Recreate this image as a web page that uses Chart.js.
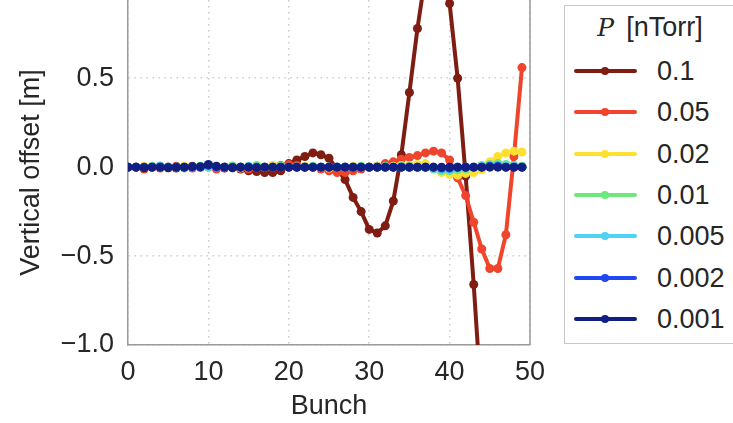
<!DOCTYPE html>
<html lang="en">
<head>
  <meta charset="UTF-8">
  <title>Vertical offset per bunch</title>
  <script src="https://cdn.jsdelivr.net/npm/chart.js"></script>
  <style>
    body { margin: 0; background: #fff; font-family: "Liberation Sans", Arial, sans-serif; color: #262626; }
    #wrap { position: relative; width: 733px; height: 423px; overflow: hidden; }
    #legend { position: absolute; left: 564px; top: 5px; width: 200px; height: 339px;
              border: 1px solid #c8c8c8; background: #fff; box-sizing: border-box; }
    #legend .title { position: absolute; left: 0; top: 6px; width: 170px; text-align: center; font-size: 27px; }
    #legend .title i { font-family: "DejaVu Serif", serif; font-size: 25px; margin-right: 12px; }
    .item { position: absolute; left: 0; height: 32px; width: 200px; }
    .item .ln { position: absolute; left: 9px; top: 14px; width: 63px; height: 4px; border-radius: 2px; }
    .item .dot { position: absolute; left: 36px; top: 12px; width: 8px; height: 8px; border-radius: 50%; }
    .item .lab { position: absolute; left: 92px; top: 0; font-size: 27px; line-height: 32px; }
  </style>
</head>
<body>
  <div id="wrap">
    <canvas id="chart" width="733" height="423"></canvas>
    <div id="legend"><div class="title"><i>P</i>[nTorr]</div></div>
  </div>

  <script>
    // bunch index on x
    const bunches = [0,1,2,3,4,5,6,7,8,9,10,11,12,13,14,15,16,17,18,19,20,21,22,23,24,
                     25,26,27,28,29,30,31,32,33,34,35,36,37,38,39,40,41,42,43,44,45,46,47,48,49];

    const pressures = ['0.1', '0.05', '0.02', '0.01', '0.005', '0.002', '0.001'];
    const colors = ['#7f1d12', '#f0442c', '#fde030', '#6ee87c', '#50d2f5', '#1f48f2', '#121f82'];

    // vertical offset [m]
    const offset_0p1 = [0.0, 0.0, -0.005, 0.0, 0.005, 0.0, -0.005, 0.0, 0.005, 0.0,
      0.005, 0.0, -0.005, 0.0, -0.01, -0.02, -0.025, -0.03, -0.03, -0.02,
      0.02, 0.04, 0.06, 0.08, 0.07, 0.05, -0.01, -0.07, -0.17, -0.25,
      -0.35, -0.37, -0.33, -0.19, 0.07, 0.42, 0.78, 1.08, 1.2, 1.05,
      0.92, 0.5, -0.05, -0.66, -1.35, -1.7, -1.9, -1.85, -1.6, -1.3];
    const offset_0p05 = [0.0, 0.0, -0.01, 0.0, -0.005, 0.0, 0.005, 0.0, -0.005, 0.0,
      0.0, -0.01, 0.0, 0.005, 0.0, -0.01, -0.005, 0.0, 0.005, 0.01,
      0.015, 0.01, 0.0, 0.0, -0.01, -0.02, -0.03, -0.03, -0.02, -0.01,
      0.0, 0.005, 0.02, 0.03, 0.045, 0.055, 0.065, 0.08, 0.09, 0.08,
      0.04, -0.06, -0.16, -0.31, -0.46, -0.57, -0.57, -0.38, 0.06, 0.56];
    const offset_0p02 = [0.0, 0.0, 0.005, 0.0, 0.0, -0.005, 0.0, 0.005, 0.0, 0.0,
      0.0, 0.005, 0.0, 0.0, -0.005, 0.0, 0.005, 0.0, 0.01, 0.005,
      0.0, 0.0, 0.005, 0.0, 0.0, -0.005, 0.0, 0.0, 0.005, 0.0,
      0.0, 0.005, 0.0, 0.005, 0.01, 0.01, 0.015, 0.02, 0.0, -0.03,
      -0.04, -0.045, -0.035, -0.03, -0.015, 0.03, 0.06, 0.08, 0.09, 0.085];
    const offset_0p01 = [0.0, 0.0, 0.0, 0.005, 0.0, 0.0, 0.0, -0.005, 0.0, 0.005,
      0.0, 0.0, 0.0, 0.005, 0.0, 0.0, 0.01, 0.0, 0.0, 0.005,
      0.0, 0.0, 0.0, 0.005, 0.0, 0.0, 0.0, 0.0, 0.0, 0.005,
      0.0, 0.0, 0.005, 0.0, 0.005, 0.005, 0.0, 0.0, -0.01, -0.02,
      -0.02, -0.015, -0.01, 0.0, 0.01, 0.015, 0.02, 0.015, 0.01, 0.005];
    const offset_0p005 = [0.0, 0.0, 0.0, 0.0, 0.005, 0.0, 0.0, 0.0, 0.0, 0.0,
      0.005, 0.0, 0.0, 0.0, 0.0, 0.005, 0.0, 0.0, 0.0, 0.0,
      0.0, 0.0, 0.0, 0.0, 0.0, 0.0, 0.0, 0.0, 0.0, 0.0,
      0.0, 0.0, 0.0, 0.0, 0.0, 0.0, 0.0, 0.0, -0.005, -0.01,
      -0.01, -0.005, 0.0, 0.0, 0.005, 0.005, 0.01, 0.005, 0.005, 0.0];
    const offset_0p002 = [0.0, 0.0, 0.0, 0.0, 0.0, 0.0, 0.0, 0.0, 0.0, 0.0,
      0.01, 0.0, 0.0, 0.0, 0.0, 0.0, 0.0, 0.0, 0.0, 0.0,
      0.0, 0.0, 0.0, 0.0, 0.0, 0.0, 0.0, 0.0, 0.0, 0.0,
      0.0, 0.0, 0.0, 0.0, 0.0, 0.0, 0.0, 0.0, 0.0, -0.005,
      -0.005, 0.0, 0.0, 0.0, 0.0, 0.005, 0.005, 0.0, 0.0, 0.0];
    const offset_0p001 = [0.0, 0.0, -0.003, 0.0, 0.0, -0.003, 0.0, 0.0, 0.003, 0.003,
      0.015, 0.005, 0.0, -0.003, 0.0, 0.0, -0.003, 0.0, 0.0, 0.0,
      0.0, 0.0, 0.0, 0.0, 0.0, 0.0, 0.0, 0.0, 0.0, 0.0,
      0.0, 0.0, 0.0, 0.0, 0.0, 0.0, 0.0, 0.0, 0.0, 0.0,
      0.0, 0.0, 0.0, 0.0, 0.0, 0.0, 0.0, 0.0, 0.0, 0.0];

    const series = [offset_0p1, offset_0p05, offset_0p02, offset_0p01, offset_0p005, offset_0p002, offset_0p001];
    const xTicks = [0, 10, 20, 30, 40, 50];
    const yTicks = [-1.0, -0.5, 0.0, 0.5];

    const fmt = v => (v < 0 ? '\u2212' : '') + Math.abs(v).toFixed(1);

    // legend built as html, same order as the pressures
    const legend = document.getElementById('legend');
    pressures.forEach((p, i) => {
      const d = document.createElement('div');
      d.className = 'item';
      d.style.top = (49 + i * 41.3) + 'px';
      d.innerHTML = `<div class="ln" style="background:${colors[i]}"></div>` +
                    `<div class="dot" style="background:${colors[i]}"></div>` +
                    `<div class="lab">${p}</div>`;
      legend.appendChild(d);
    });

    // right spine
    const rightSpine = {
      id: 'rightSpine',
      afterDraw(chart) {
        const { ctx, chartArea: a } = chart;
        ctx.save();
        ctx.strokeStyle = '#9a9a9a';
        ctx.lineWidth = 1.5;
        ctx.beginPath();
        ctx.moveTo(a.right, a.top);
        ctx.lineTo(a.right, a.bottom);
        ctx.stroke();
        ctx.restore();
      }
    };

    const gridStyle = { color: '#cccccc', lineWidth: 1.5, drawTicks: false, tickLength: 0 };
    const borderStyle = { display: true, color: '#9a9a9a', width: 1.5, dash: [1.5, 4.5] };

    new Chart(document.getElementById('chart'), {
      type: 'line',
      data: {
        datasets: series.map((s, i) => ({
          label: pressures[i],
          data: bunches.map((b, k) => ({ x: b, y: s[k] })),
          borderColor: colors[i],
          backgroundColor: colors[i],
          borderWidth: 4,
          pointRadius: 4.5,
          pointBorderWidth: 0,
          tension: 0,
          order: series.length - i
        }))
      },
      options: {
        responsive: false,
        animation: false,
        layout: { autoPadding: false, padding: { top: 0, right: 203, bottom: 0, left: 0 } },
        plugins: { legend: { display: false }, tooltip: { enabled: false } },
        scales: {
          x: {
            type: 'linear', min: 0, max: 50,
            grid: gridStyle,
            border: borderStyle,
            afterBuildTicks: sc => { sc.ticks = xTicks.map(v => ({ value: v })); },
            afterFit: sc => { sc.height = 78; sc.paddingLeft = 0; sc.paddingRight = 0; },
            ticks: { padding: 11, color: '#262626', font: { size: 27, family: 'Liberation Sans' }, maxRotation: 0,
                     callback: v => String(v) },
            title: { display: true, text: 'Bunch', color: '#262626', padding: { top: 0, bottom: 0 },
                     font: { size: 27, family: 'Liberation Sans', lineHeight: 1.2 } }
          },
          y: {
            type: 'linear', min: -1.0, max: 0.94,
            grid: gridStyle,
            border: borderStyle,
            afterBuildTicks: sc => { sc.ticks = yTicks.map(v => ({ value: v })); },
            afterFit: sc => { sc.width = 128; sc.paddingTop = 0; sc.paddingBottom = 0; },
            ticks: { padding: 14, color: '#262626', font: { size: 27, family: 'Liberation Sans' },
                     callback: v => fmt(v) },
            title: { display: true, text: 'Vertical offset [m]', color: '#262626', padding: { top: 15, bottom: 0 },
                     font: { size: 27, family: 'Liberation Sans', lineHeight: 1.2 } }
          }
        }
      },
      plugins: [rightSpine]
    });
  </script>
</body>
</html>
